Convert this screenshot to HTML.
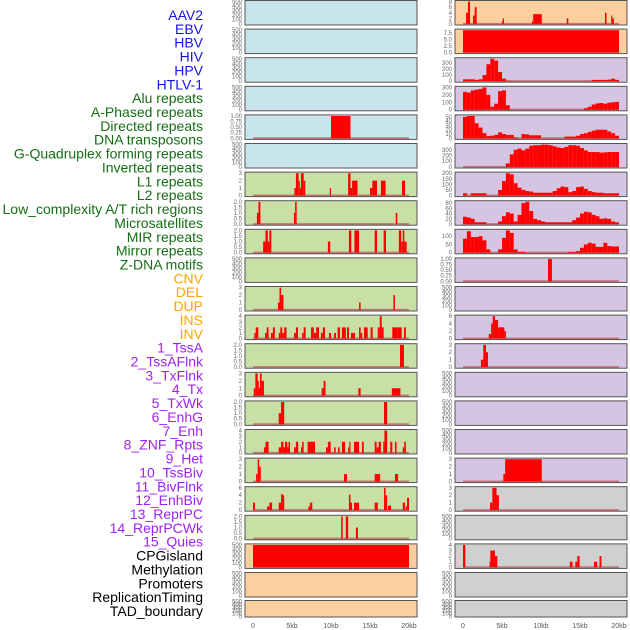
<!DOCTYPE html>
<html><head><meta charset="utf-8"><style>
html,body{margin:0;padding:0;background:#fff;}
svg{display:block;font-family:"Liberation Sans",sans-serif;}
</style></head><body>
<svg id="chart" width="630" height="630" viewBox="0 0 630 630" xmlns="http://www.w3.org/2000/svg"></svg>
<script>
// ---- data ----
const trackLabels = ["AAV2","EBV","HBV","HIV","HPV","HTLV-1","Alu repeats","A-Phased repeats","Directed repeats","DNA transposons","G-Quadruplex forming repeats","Inverted repeats","L1 repeats","L2 repeats","Low_complexity A/T rich regions","Microsatellites","MIR repeats","Mirror repeats","Z-DNA motifs","CNV","DEL","DUP","INS","INV","1_TssA","2_TssAFlnk","3_TxFlnk","4_Tx","5_TxWk","6_EnhG","7_Enh","8_ZNF_Rpts","9_Het","10_TssBiv","11_BivFlnk","12_EnhBiv","13_ReprPC","14_ReprPCWk","15_Quies","CPGisland","Methylation","Promoters","ReplicationTiming","TAD_boundary"];
const labelGroups = ["v","v","v","v","v","v","r","r","r","r","r","r","r","r","r","r","r","r","r","s","s","s","s","s","c","c","c","c","c","c","c","c","c","c","c","c","c","c","c","k","k","k","k","k"];
const xTickValues = [0,5,10,15,20];
const xTickLabels = ["0","5kb","10kb","15kb","20kb"];
const T500=[0,100,200,300,400,500];
const leftTicks = [T500,T500,T500,T500,[0,0.25,0.5,0.75,1.0],T500,[0,1,2,3],[0,0.5,1.0,1.5,2.0],[0,0.5,1.0,1.5,2.0],T500,[0,1,2,3],[0,1,2,3,4],[0,0.5,1.0,1.5,2.0],[0,1,2,3],[0,0.5,1.0,1.5,2.0],[0,1,2,3,4],[0,1,2,3],[0,2,4,6],[0,0.5,1.0,1.5,2.0],T500,T500,T500];
const leftBg = ["b","b","b","b","b","b","g","g","g","g","g","g","g","g","g","g","g","g","g","p","p","p"];
const leftBars = [
 [],[],[],[],
 [[10,12.5,1]],
 [],
 [[5.3,5.5,1],[5.5,5.85,3],[5.85,6.0,2],[6.0,6.15,1],[6.15,6.5,3],[6.5,6.7,2],[9.85,10.0,1],[12.2,12.5,3],[12.5,12.7,1],[12.7,13.4,2],[15.0,15.3,1],[15.3,15.9,2],[16.4,17.0,2],[19.1,19.5,2]],
 [[0.5,0.7,1],[0.7,0.95,2],[5.25,5.4,1],[5.4,5.6,2],[18.3,18.5,1]],
 [[1.3,1.6,1],[1.6,1.9,2],[1.9,2.1,1],[2.1,2.35,2],[9.6,9.9,1],[12.3,12.6,2],[13.0,13.6,2],[15.6,15.9,2],[16.75,17.05,2],[18.7,19.0,2],[19.0,19.2,1],[19.2,19.4,2],[19.4,19.7,1]],
 [],
 [[3.2,3.4,1],[3.4,3.6,3],[3.6,3.9,2],[13.6,13.8,1],[18.0,18.2,2]],
 [[0.17,0.35,1],[0.35,0.68,2],[1.54,1.75,1],[1.75,2.0,2],[2.3,2.55,1],[2.55,2.8,2],[3.3,3.5,1],[3.5,3.75,2],[3.75,4.0,1],[4.0,4.3,2],[5.26,5.5,1],[5.5,5.77,2],[6.3,6.5,1],[6.5,6.75,2],[7.44,7.8,2],[7.8,8.1,1],[8.1,8.46,2],[8.7,8.95,1],[8.95,9.23,2],[9.74,10.0,1],[10.4,10.64,1],[10.85,11.15,2],[11.4,11.9,2],[12.05,12.3,2],[12.56,13.08,1],[13.6,13.8,2],[13.8,14.0,1],[14.23,14.7,2],[15.08,15.34,2],[16.0,16.25,2],[16.25,16.5,4],[16.5,16.75,2],[17.86,18.5,2],[18.5,19.06,2],[19.36,19.6,2]],
 [[18.85,19.35,2]],
 [[0.1,0.3,1],[0.3,0.6,3],[0.6,0.75,2],[0.75,0.9,1],[0.9,1.1,3],[1.1,1.4,2],[8.8,9.05,1],[9.05,9.3,2],[13.5,13.8,1],[17.8,18.9,1]],
 [[3.3,3.6,1],[3.6,4.0,2],[16.8,17.2,2]],
 [[1.4,1.6,1],[1.6,2.0,2],[3.3,3.6,1],[3.6,3.9,2],[3.9,4.1,1],[4.1,4.4,2],[4.4,4.55,1],[4.55,4.75,2],[5.26,5.5,1],[5.5,5.8,2],[6.15,6.3,1],[6.3,6.5,2],[7.0,7.95,2],[9.36,9.6,1],[9.6,9.96,2],[10.4,10.6,1],[10.9,11.1,1],[11.4,11.8,2],[12.2,12.35,1],[12.35,12.5,2],[12.95,13.6,2],[13.97,14.2,2],[15.6,15.85,2],[15.85,16.1,1],[16.1,16.4,2],[16.7,16.85,2],[16.85,17.2,4],[17.6,17.86,2],[18.2,18.4,2],[19.2,19.4,1],[19.4,19.6,2]],
 [[0.4,0.6,1],[0.6,0.8,3],[0.8,1.0,2],[11.67,12.05,1],[15.6,16.3,1],[18.2,18.6,1]],
 [[0.0,0.25,2],[1.8,2.1,1],[2.1,2.45,2],[3.3,3.6,2],[3.6,3.8,4.3],[3.8,4.0,4],[7.1,7.3,1],[7.3,7.6,2],[12.3,12.5,4.2],[12.5,12.7,2],[12.95,13.6,2],[15.6,16.0,2],[16.8,17.0,6],[17.0,17.2,4],[17.3,17.7,1.2],[19.2,19.5,2],[19.6,19.75,1],[19.75,20.0,3.3]],
 [[11.3,11.5,2],[11.9,12.2,2],[13.2,13.45,1]],
 [[0,20,500]],
 [],[]
];
const rightTicks = [[0,2,4,6,8],[0.0,2.5,5.0,7.5],[0,100,200,300],[0,100,200,300],[0,10,20,30,40,50],[0,100,200,300],[0,50,100,150,200],[0,20,40,60,80],[0,50,100],[0,0.25,0.5,0.75,1.0],T500,[0,2,4,6],[0,1,2,3],T500,T500,T500,[0,1,2,3],[0,1,2,3],T500,[0,1,2,3,4],T500,T500];
const rightBg = ["p","p","u","u","u","u","u","u","u","u","u","u","u","u","u","u","u","k","k","k","k","k"];
const rightBars = [
 [[0.4,0.64,4],[0.64,0.9,8],[1.28,1.5,3],[1.5,1.75,6],[5.0,5.1,1],[5.1,5.25,2],[8.85,9.0,1],[9.0,10.1,3.5],[13.3,13.5,2],[18.2,18.4,4],[19.0,19.15,3],[19.15,19.35,2]],
 [[0,20,8.5]],
 [],[],[],[],[],[],[],
 [[10.9,11.4,1]],
 [],
 [[3.3,3.6,1.2],[3.6,3.8,4],[3.8,4.1,6],[4.1,4.5,5],[4.5,5.3,3],[5.3,5.5,2]],
 [[2.3,2.6,1],[2.6,2.95,3],[2.95,3.2,2]],
 [],[],[],
 [[5.17,5.4,1],[5.4,10.1,3]],
 [[3.46,3.76,1],[3.76,4.3,3],[4.3,4.6,2]],
 [],
 [[0,0.3,4],[3.4,3.5,1],[3.5,4.1,3],[4.1,4.4,2],[13.7,14.05,1],[14.4,14.65,1],[14.65,14.95,2],[16.8,17.2,1],[17.5,17.75,2]],
 [],[]
];
// 0.5kb-bin profiles (40 bins over 0–20kb) for right-column continuous tracks
const profileHBVlike = [30,30,30,20,30,100,280,370,340,150,40,5,0,0,0,0,0,0,0,0,0,0,0,0,0,0,0,0,0,0,0,0,0,20,20,20,20,25,40,20];
const profileHPVlike = [240,230,260,270,280,300,200,40,80,250,260,60,0,0,0,0,0,0,0,0,0,0,0,0,0,0,0,0,0,0,0,20,40,70,85,90,80,95,100,105];
const profileAluLike = [50,52,52,35,25,12,5,6,8,14,10,8,8,2,0,10,9,7,7,7,0,0,0,0,0,0,4,4,4,6,10,12,15,18,20,20,20,16,12,6];
const profileGQuad = [0,0,0,0,0,0,0,0,0,0,0,60,220,300,320,290,320,370,380,380,390,390,380,360,340,330,350,380,380,370,330,290,260,260,260,250,255,260,260,260];
const profileL1 = [20,0,20,20,20,20,0,0,0,50,130,200,190,110,70,50,40,35,25,25,25,25,25,40,65,80,75,30,40,75,80,60,40,30,25,25,20,20,20,20];
const profileL2 = [28,25,20,7,7,7,0,0,0,10,30,45,40,10,35,80,85,50,20,15,10,7,7,7,7,7,7,7,15,25,40,47,45,35,30,20,22,20,10,7];
const profileMIR = [85,130,95,95,100,75,20,0,0,20,90,135,120,20,5,5,0,0,0,0,0,0,0,0,0,0,0,5,5,10,30,50,60,55,35,35,60,40,38,38];
const rightProfiles = [null,null,profileHBVlike,profileHPVlike,profileAluLike,profileGQuad,profileL1,profileL2,profileMIR,null,null,null,null,null,null,null,null,null,null,null,null,null];

// ---- drawing ----
const NS="http://www.w3.org/2000/svg";
const svg=document.getElementById('chart');
const BG={b:"#c8e4ec",g:"#c8e0a5",p:"#fdcf9f",u:"#d5c5e2",k:"#d0d0d0"};
const LABC={v:"#1414e6",r:"#156e15",s:"#ffa500",c:"#a022f0",k:"#000000"};
function mk(tag,attrs){const e=document.createElementNS(NS,tag);for(const k in attrs)e.setAttribute(k,attrs[k]);svg.appendChild(e);return e;}
function xScale(col,kb){const x0=col===0?253:463;return x0+kb*7.8;}
function rowTop(r){return r<21?0.5+r*28.6:600.5;}
function rowH(r){return r<21?24.5:16.5;}

// labels
const lstep=(611-15)/(trackLabels.length-1);
trackLabels.forEach((t,i)=>{
  const e=mk('text',{x:203,y:15+i*lstep+5,'text-anchor':'end','font-size':'14',fill:LABC[labelGroups[i]]});
  e.textContent=t;
  
  
});

function drawPanel(col,r,ticks,bg,bars,profile){
  const px0=col===0?245:455, pw=172;
  const top=rowTop(r), h=rowH(r);
  let maxv=ticks[ticks.length-1];
  bars.forEach(b=>{if(b[2]>maxv)maxv=b[2];});
  if(profile)profile.forEach(v=>{if(v>maxv)maxv=v;});
  const ymin=-0.05*maxv, ymax=maxv*1.05;
  const ys=v=>top+h-(v-ymin)/(ymax-ymin)*h;
  const g=document.createElementNS(NS,'g');svg.appendChild(g);
  
  
  const rect=document.createElementNS(NS,'rect');
  rect.setAttribute('x',px0);rect.setAttribute('y',top);rect.setAttribute('width',pw);rect.setAttribute('height',h);
  rect.setAttribute('fill',BG[bg]);
  g.appendChild(rect);
  const hasData=bars.length>0||profile;
  const addRect=(a,b,v,name)=>{
    const x1=xScale(col,a),x2=xScale(col,b);
    const y1=ys(v),y0=ys(0);
    const e=document.createElementNS(NS,'rect');
    e.setAttribute('x',x1);e.setAttribute('y',Math.min(y1,y0));e.setAttribute('width',Math.max(0.8,x2-x1));e.setAttribute('height',Math.abs(y0-y1));
    e.setAttribute('fill','#ff0000');
    
    
    g.appendChild(e);
  };
  if(hasData){
    const bl=document.createElementNS(NS,'line');
    bl.setAttribute('x1',xScale(col,0));bl.setAttribute('x2',xScale(col,20));bl.setAttribute('y1',ys(0));bl.setAttribute('y2',ys(0));
    bl.setAttribute('stroke','#c05050');bl.setAttribute('stroke-width','2');bl.setAttribute('opacity','0.7');
    
    
    g.appendChild(bl);
  }
  bars.forEach(b=>addRect(b[0],b[1],b[2],'bar'));
  if(profile)profile.forEach((v,i)=>{if(v>0)addRect(i*0.5,(i+1)*0.5,v,'profile-bin');});
  const br=document.createElementNS(NS,'rect');
  br.setAttribute('x',px0);br.setAttribute('y',top);br.setAttribute('width',pw);br.setAttribute('height',h);
  br.setAttribute('fill','none');br.setAttribute('stroke','#555');br.setAttribute('stroke-width','1');
  g.appendChild(br);
  const dec=ticks.some(t=>t%1!==0)?(ticks.some(t=>Math.round(t*100)%10!==0)?2:1):0;
  ticks.forEach(t=>{
    const e=document.createElementNS(NS,'text');
    e.setAttribute('x',px0-3);e.setAttribute('y',ys(t)+2);e.setAttribute('text-anchor','end');
    e.setAttribute('font-size','6');e.setAttribute('fill','#666');
    e.textContent=t.toFixed(dec);
    
    
    g.appendChild(e);
  });
}
for(let r=0;r<22;r++){
  drawPanel(0,r,leftTicks[r],leftBg[r],leftBars[r],null);
  drawPanel(1,r,rightTicks[r],rightBg[r],rightBars[r],rightProfiles[r]);
}
[0,1].forEach(col=>{
  xTickValues.forEach((v,i)=>{
    const e=mk('text',{x:xScale(col,v),y:628,'text-anchor':'middle','font-size':'7',fill:'#555'});
    e.textContent=xTickLabels[i];
    
    
  });
});
</script>
</body></html>
